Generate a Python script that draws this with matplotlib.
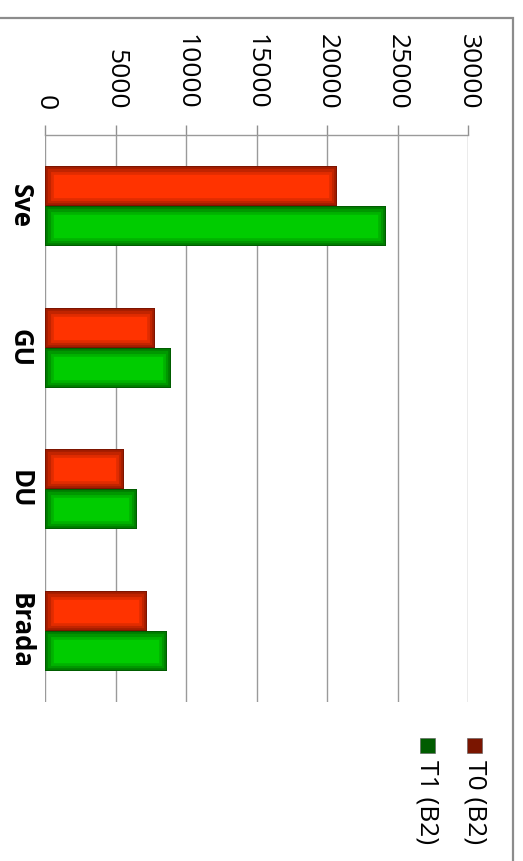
import matplotlib.pyplot as plt
import matplotlib.patheffects as pe
from matplotlib.patches import Rectangle
import numpy as np

# data
kategorije = ['Sve', 'GU', 'DU', 'Brada']
serije = ['T0 (B2)', 'T1 (B2)']
t0 = [20700, 7800, 5600, 7230]
t1 = [24180, 8940, 6500, 8670]
ticks = [0, 5000, 10000, 15000, 20000, 25000, 30000]

boje = ['#ff3300', '#00cc00']
tamne = ['#7a1400', '#005a00']
legenda_boje = ['#7a1500', '#005c00']

W, H = 523, 861
fig = plt.figure(figsize=(W / 100, H / 100), dpi=100)
plt.rcParams['font.family'] = ['Open Sans', 'DejaVu Sans']

ax = fig.add_axes([45 / W, (H - 702) / H, (468 - 45) / W, (702 - 135) / H])

y = np.arange(len(kategorije))
h = 0.283
for i, vals in enumerate([t0, t1]):
    pos = y - h / 2 + i * h
    ax.barh(pos, vals, height=h, color=boje[i], zorder=3)
    # tamni rub s prijelazom prema unutra
    rub = ax.barh(pos, vals, height=h, fill=False, edgecolor=tamne[i], linewidth=1.3, zorder=4,
                  path_effects=[pe.Stroke(linewidth=12, foreground=tamne[i], alpha=0.22),
                                pe.Stroke(linewidth=8, foreground=tamne[i], alpha=0.3),
                                pe.Stroke(linewidth=4, foreground=tamne[i], alpha=0.45),
                                pe.Normal()])
    for p in rub:
        p.set_clip_path(p)

ax.set_xlim(0, 30000)
ax.set_ylim(len(kategorije) - 0.5, -0.5)
ax.set_xticks(ticks)
ax.set_xticklabels([str(t) for t in ticks], rotation=-90, fontsize=19)
ax.xaxis.tick_top()
ax.tick_params(axis='x', direction='out', length=7, width=1, color='#909090', pad=11)
ax.set_yticks(y)
ax.set_yticklabels(kategorije, rotation=-90, fontsize=18.5, fontweight='bold', va='center')
ax.tick_params(axis='y', length=0, pad=8)
ax.grid(axis='x', color='#9a9a9a', linewidth=1, zorder=0)
ax.set_axisbelow(True)
for s in ['left', 'right', 'bottom']:
    ax.spines[s].set_visible(False)
ax.spines['top'].set_color('#9a9a9a')
ax.spines['top'].set_linewidth(1)

# legenda
leg_x = [474.5, 427.5]
for lx, lab, c in zip(leg_x, serije, legenda_boje):
    fig.add_artist(Rectangle(((lx - 7.5) / W, (H - 753) / H), 15 / W, 15 / H,
                             transform=fig.transFigure, facecolor=c, edgecolor='#5a5a5a', linewidth=0.4))
    fig.text(lx / W, (H - 760) / H, lab, rotation=-90, ha='center', va='top', fontsize=19)

# okvir grafikona
fig.add_artist(Rectangle((-10 / W, -10 / H), (513 + 10) / W, (H - 18 + 10) / H,
                         transform=fig.transFigure, fill=False, edgecolor='#8c8c8c', linewidth=1.6))

fig.savefig('out.png', dpi=100)
